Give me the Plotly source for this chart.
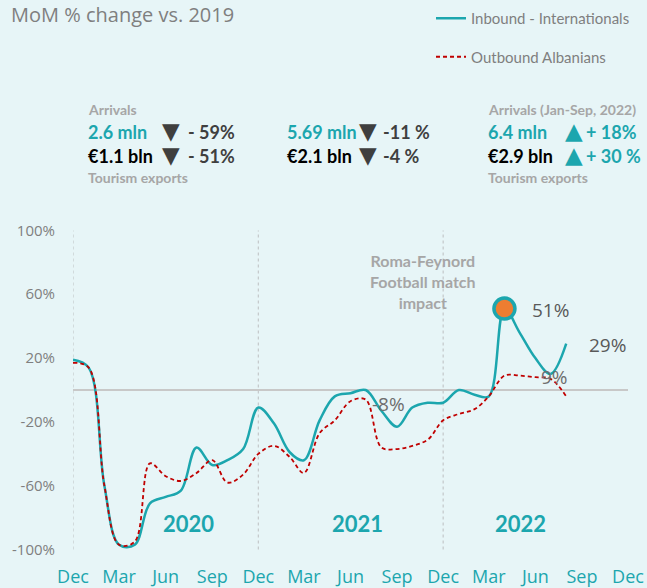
import plotly.graph_objects as go

# ---------------- data ----------------
months = [
    "2019-12-01",
    "2020-01-01", "2020-02-01", "2020-03-01", "2020-04-01", "2020-05-01", "2020-06-01",
    "2020-07-01", "2020-08-01", "2020-09-01", "2020-10-01", "2020-11-01", "2020-12-01",
    "2021-01-01", "2021-02-01", "2021-03-01", "2021-04-01", "2021-05-01", "2021-06-01",
    "2021-07-01", "2021-08-01", "2021-09-01", "2021-10-01", "2021-11-01", "2021-12-01",
    "2022-01-01", "2022-02-01", "2022-03-01", "2022-04-01", "2022-05-01", "2022-06-01",
    "2022-07-01", "2022-08-01",
]
inbound = [19,
           14, -60, -97, -97, -71, -67, -63, -36, -47, -44, -37, -11,
           -21, -39, -44, -19, -4, -2, 0, -13, -23, -11, -8, -8,
           0, -3, -4, 51, 36, 20, 10, 29]
outbound = [17,
            14, -60, -97, -95, -46, -54, -57, -52, -44, -58, -53, -40,
            -35, -42, -52, -27, -19, -7, -6, -36, -37, -35, -31, -19,
            -15, -12, -4, 9, 9, 8, 7, -4]
highlight_month = "2022-04-01"
highlight_value = 51

tick_dates = ["2019-12-01", "2020-03-01", "2020-06-01", "2020-09-01", "2020-12-01",
              "2021-03-01", "2021-06-01", "2021-09-01", "2021-12-01",
              "2022-03-01", "2022-06-01", "2022-09-01", "2022-12-01"]
tick_labels = ["Dec", "Mar", "Jun", "Sep", "Dec", "Mar", "Jun", "Sep", "Dec",
               "Mar", "Jun", "Sep", "Dec"]
y_ticks = [-100, -60, -20, 20, 60, 100]
y_labels = ["-100%", "-60%", "-20%", "20%", "60%", "100%"]
year_dividers = ["2019-12-01", "2020-12-01", "2021-12-01"]
year_names = ["2020", "2021", "2022"]

kpi_arrivals = ["2.6 mln", "5.69 mln", "6.4 mln"]
kpi_arrivals_chg = ["- 59%", "-11 %", "+ 18%"]
kpi_exports = ["€1.1 bln", "€2.1 bln", "€2.9 bln"]
kpi_exports_chg = ["- 51%", "-4 %", "+ 30 %"]

# ---------------- style ----------------
BG = "#E7F5F7"
TEAL = "#1CA6AE"
RED = "#C00000"
ORANGE = "#ED7D31"
GRAY = "#7F7F7F"
LGRAY = "#A6A6A6"
DARK = "#3F3F3F"

W, H = 647, 588
L, R, T, B = 73, 19, 224, 32
PW, PH = W - L - R, H - T - B


def px(x):
    return (x - L) / PW


def py(y):
    return (H - B - y) / PH


fig = go.Figure()
fig.add_trace(go.Scatter(
    x=months, y=inbound, mode="lines", name="Inbound - Internationals",
    line=dict(color=TEAL, width=2.5, shape="spline", smoothing=1.0),
    legendgroup="a", hoverinfo="skip"))
fig.add_trace(go.Scatter(
    x=months, y=outbound, mode="lines", name="Outbound Albanians",
    line=dict(color=RED, width=1.8, dash="4px,3px", shape="spline", smoothing=1.0),
    legendgroup="b", hoverinfo="skip"))
fig.add_trace(go.Scatter(
    x=[highlight_month], y=[highlight_value], mode="markers", showlegend=False,
    marker=dict(size=21, color=ORANGE, line=dict(color=TEAL, width=3.5)),
    hoverinfo="skip"))

shapes = []
for d in year_dividers:
    shapes.append(dict(type="line", xref="x", yref="y", x0=d, x1=d, y0=-100, y1=100,
                       line=dict(color="#C4C8CA", width=1.2, dash="dot"), layer="below"))

ann = []


def add(text, x, y, size, color, family="Lato", anchor="left"):
    ann.append(dict(text=text, xref="paper", yref="paper", x=px(x), y=py(y),
                    xanchor=anchor, yanchor="middle", showarrow=False,
                    font=dict(family=family, size=size, color=color)))


# title
add("MoM % change vs. 2019", 9, 15, 20, GRAY, family="Open Sans")

# KPI blocks
add("<b>Arrivals</b>", 86, 110, 14, LGRAY)
add("<b>Tourism exports</b>", 86, 177, 14, LGRAY)
add("<b>Arrivals (Jan-Sep, 2022)</b>", 486, 110, 14, LGRAY)
add("<b>Tourism exports</b>", 486, 177, 14, LGRAY)

block_x = [86, 285, 486]
tri_x = [171, 368, 574]
chg_x = [186, 381, 584]
tri = ["▼", "▼", "▲"]
tri_col = [DARK, DARK, TEAL]
chg_col = [DARK, DARK, TEAL]
for i in range(3):
    add("<b>%s</b>" % kpi_arrivals[i], block_x[i], 132, 18, TEAL)
    add("<b>%s</b>" % kpi_exports[i], block_x[i], 156, 18, "#000000")
    add(tri[i], tri_x[i], 131, 23, tri_col[i], family="DejaVu Sans", anchor="center")
    add(tri[i], tri_x[i], 155, 23, tri_col[i], family="DejaVu Sans", anchor="center")
    add("<b>%s</b>" % kpi_arrivals_chg[i], chg_x[i], 132, 18, chg_col[i])
    add("<b>%s</b>" % kpi_exports_chg[i], chg_x[i], 156, 18, chg_col[i])

# year labels
for name, xc in zip(year_names, [188, 357, 520]):
    add("<b>%s</b>" % name, xc, 523, 22, TEAL, anchor="center")

# event note
add("<b>Roma-Feynord<br>Football match<br>impact</b>", 423, 281, 16, LGRAY, anchor="center")

# data labels
add("51%", 530, 310, 19, "#595959", family="Open Sans")
add("29%", 587, 345, 19, "#595959", family="Open Sans")
add("9%", 539, 377, 19, "#6E6E6E", family="Open Sans")
add("-8%", 370, 404, 19, "#6E6E6E", family="Open Sans")

fig.update_layout(
    width=W, height=H,
    margin=dict(l=L, r=R, t=T, b=B, pad=0, autoexpand=False),
    paper_bgcolor=BG, plot_bgcolor=BG,
    showlegend=True,
    legend=dict(x=px(431), y=py(2), xanchor="left", yanchor="top",
                bgcolor="rgba(0,0,0,0)", font=dict(family="Lato", size=15, color=GRAY),
                tracegroupgap=16, itemwidth=30),
    shapes=shapes, annotations=ann,
    xaxis=dict(type="date", range=["2019-12-01", "2022-12-01"], automargin=False,
               tickmode="array", tickvals=tick_dates, ticktext=tick_labels,
               showgrid=False, zeroline=False, showline=False,
               ticks="outside", ticklen=4, tickcolor="rgba(0,0,0,0)",
               tickfont=dict(family="Open Sans", size=18, color=TEAL)),
    yaxis=dict(range=[-104, 104], tickmode="array", tickvals=y_ticks, ticktext=y_labels,
               automargin=False,
               showgrid=False, zeroline=True, zerolinecolor="#C8C8C8", zerolinewidth=1.5,
               showline=False, ticks="outside", ticklen=14, tickcolor="rgba(0,0,0,0)",
               tickfont=dict(family="Open Sans", size=15, color=GRAY)),
)

fig.write_html("out.html", config={"displayModeBar": False},
               post_script="document.body.style.margin='0';")
